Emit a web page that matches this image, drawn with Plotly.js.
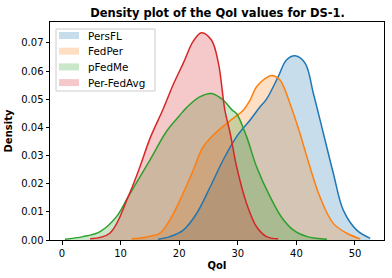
<!DOCTYPE html>
<html><head><meta charset="utf-8">
<script src="https://cdn.plot.ly/plotly-3.0.1.min.js"></script>
<style>html,body{margin:0;padding:0;background:#fff;}#chart{width:392px;height:278px;}</style>
</head><body><div id="chart"></div>
<script>
const seriesNames = ["PersFL", "FedPer", "pFedMe", "Per-FedAvg"];
const persflX = [16.4, 18.4, 20.7, 23.0, 25.3, 27.5, 29.8, 32.1, 33.8, 34.9, 36.9, 38.3, 39.8, 41.5, 42.9, 44.6, 46.3, 48.0, 50.3, 52.6];
const persflY = [0.0003, 0.0012, 0.0035, 0.0095, 0.0189, 0.0284, 0.0367, 0.0426, 0.0473, 0.0500, 0.0580, 0.0639, 0.0654, 0.0627, 0.0520, 0.0379, 0.0237, 0.0106, 0.0035, 0.0006];
const fedperX = [11.9, 14.5, 16.7, 18.4, 20.1, 22.4, 24.1, 26.4, 29.2, 30.9, 32.1, 33.2, 35.2, 35.9, 37.2, 38.9, 40.6, 42.3, 44.0, 46.3, 48.6, 50.9];
const fedperY = [0.0004, 0.0011, 0.0024, 0.0071, 0.0140, 0.0248, 0.0331, 0.0384, 0.0432, 0.0460, 0.0497, 0.0544, 0.0580, 0.0584, 0.0568, 0.0485, 0.0379, 0.0260, 0.0154, 0.0059, 0.0024, 0.0004];
const pfedmeX = [0.5, 3.6, 6.5, 9.3, 11.3, 15.0, 17.9, 20.1, 21.3, 23.5, 25.5, 27.5, 29.0, 29.8, 31.5, 33.2, 35.5, 37.5, 39.5, 42.0, 45.2];
const pfedmeY = [0.0003, 0.0012, 0.0030, 0.0083, 0.0154, 0.0284, 0.0388, 0.0443, 0.0471, 0.0508, 0.0520, 0.0497, 0.0462, 0.0448, 0.0367, 0.0260, 0.0154, 0.0080, 0.0035, 0.0011, 0.0003];
const perfedavgX = [4.8, 8.2, 11.3, 13.3, 15.0, 17.3, 19.0, 20.7, 22.4, 23.8, 25.5, 26.7, 27.8, 28.7, 29.8, 31.5, 33.2, 34.9, 36.9];
const perfedavgY = [0.0004, 0.0025, 0.0154, 0.0260, 0.0360, 0.0467, 0.0553, 0.0628, 0.0706, 0.0736, 0.0710, 0.0627, 0.0460, 0.0379, 0.0260, 0.0130, 0.0047, 0.0012, 0.0004];
const xTicks = [0, 10, 20, 30, 40, 50];
const yTicks = [0, 0.01, 0.02, 0.03, 0.04, 0.05, 0.06, 0.07];

const xs = [persflX, fedperX, pfedmeX, perfedavgX];
const ys = [persflY, fedperY, pfedmeY, perfedavgY];
const lineColors = ["#1f77b4", "#ff7f0e", "#2ca02c", "#d62728"];
const fillColors = ["rgba(31,119,180,0.25)", "rgba(255,127,14,0.25)", "rgba(44,160,44,0.25)", "rgba(214,39,40,0.25)"];

const traces = [];
for (let i = 0; i < 4; i++) {
  traces.push({x: xs[i], y: ys[i], type: "scatter", mode: "lines", name: seriesNames[i],
    fill: "tozeroy", fillcolor: fillColors[i], line: {width: 0, shape: "spline", smoothing: 1}, showlegend: false, hoverinfo: "skip"});
}
for (let i = 0; i < 4; i++) {
  traces.push({x: xs[i], y: ys[i], type: "scatter", mode: "lines", name: seriesNames[i],
    line: {color: lineColors[i], width: 1.5, shape: "spline", smoothing: 1}, showlegend: false});
}

// Custom compact legend (matplotlib style), positioned in paper coordinates
const plotL = 50, plotR = 384, plotT = 22, plotB = 240;
const px = v => (v - plotL) / (plotR - plotL);
const py = v => (plotB - v) / (plotB - plotT);
const shapes = [{type: "rect", xref: "paper", yref: "paper", x0: px(56), x1: px(155), y0: py(91), y1: py(29),
  fillcolor: "rgba(255,255,255,0.8)", line: {color: "#cccccc", width: 1}, layer: "above"}];
const annotations = [];
const rowY = [35.5, 51.2, 66.9, 82.6];
for (let i = 0; i < 4; i++) {
  shapes.push({type: "rect", xref: "paper", yref: "paper", x0: px(59), x1: px(79), y0: py(rowY[i] + 3.5), y1: py(rowY[i] - 3.5),
    fillcolor: fillColors[i], line: {width: 0}, layer: "above"});
  annotations.push({xref: "paper", yref: "paper", x: px(86), y: py(rowY[i]), xanchor: "left", yanchor: "middle",
    text: seriesNames[i], showarrow: false, font: {family: "DejaVu Sans", size: 10.4, color: "#000"}});
}

const axisCommon = {showline: true, mirror: true, linecolor: "#000", linewidth: 1, ticks: "outside", ticklen: 3.5, tickwidth: 1, tickcolor: "#000", showgrid: false, zeroline: false, tickfont: {family: "DejaVu Sans", size: 10, color: "#000"}};

const layout = {
  width: 392, height: 278,
  margin: {l: 50, r: 8, t: 22, b: 38},
  paper_bgcolor: "#fff", plot_bgcolor: "#fff",
  title: {text: "<b>Density plot of the QoI values for DS-1.</b>", font: {family: "DejaVu Sans", size: 11.5, color: "#000"}, x: 0.555, xanchor: "center", y: 0.953, yanchor: "middle"},
  xaxis: Object.assign({}, axisCommon, {range: [-2.05, 54.95], tickvals: xTicks, ticktext: xTicks.map(String),
    title: {text: "<b>QoI</b>", font: {family: "DejaVu Sans", size: 10, color: "#000"}, standoff: 4}}),
  yaxis: Object.assign({}, axisCommon, {range: [0, 0.0774], tickvals: yTicks, ticktext: yTicks.map(v => v.toFixed(2)),
    title: {text: "<b>Density</b>", font: {family: "DejaVu Sans", size: 10, color: "#000"}, standoff: 6}}),
  shapes: shapes,
  annotations: annotations,
  showlegend: false
};
Plotly.newPlot("chart", traces, layout, {staticPlot: true, displayModeBar: false});
</script></body></html>
